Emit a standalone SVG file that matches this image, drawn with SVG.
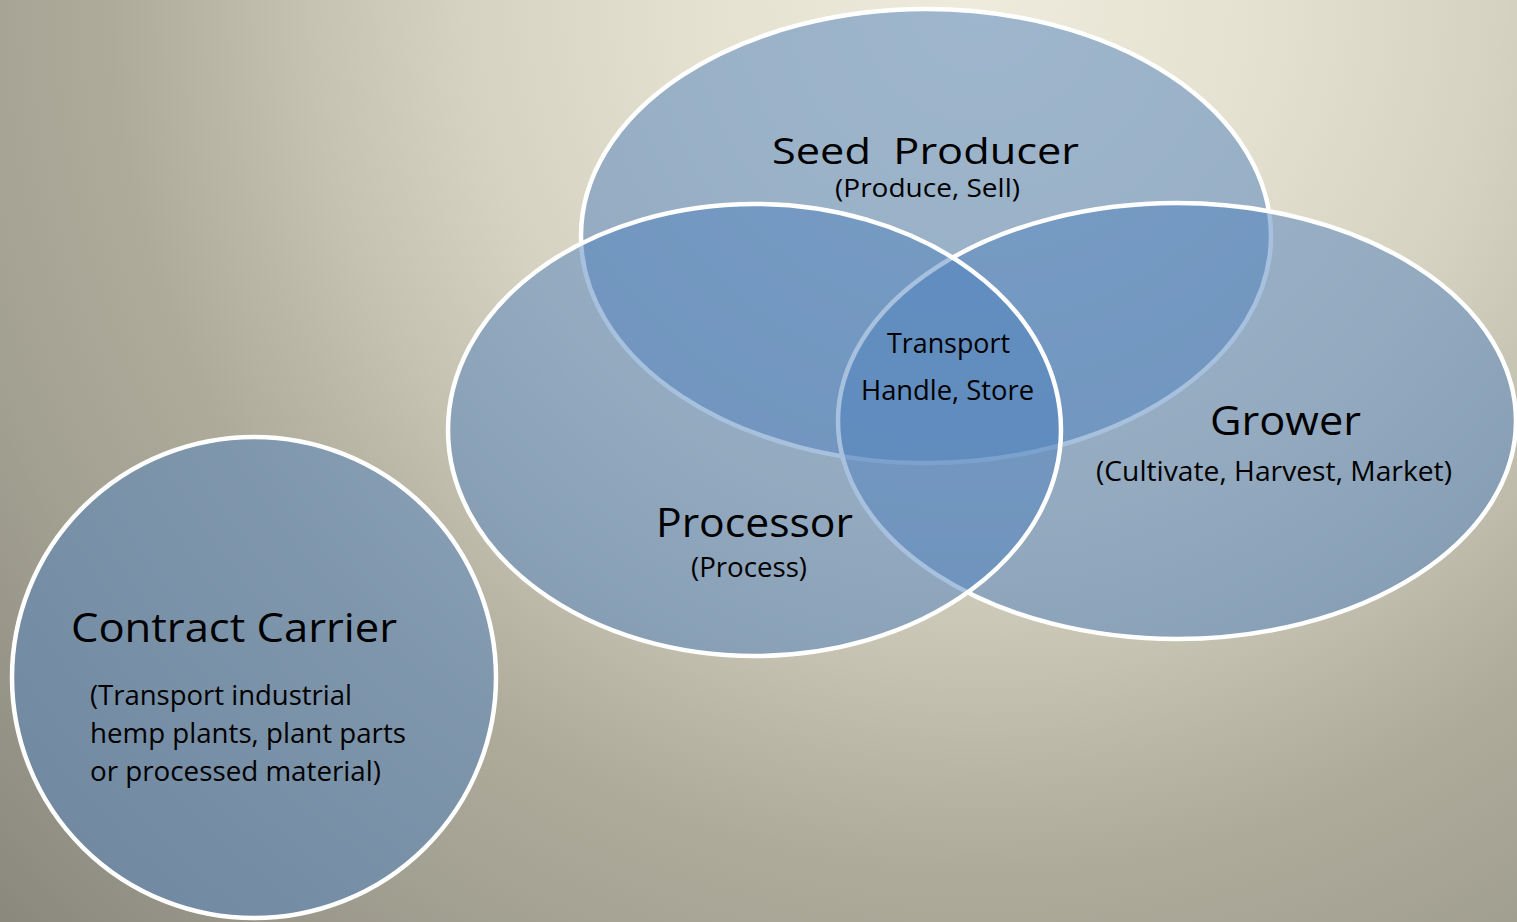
<svg xmlns="http://www.w3.org/2000/svg" width="1517" height="922" viewBox="0 0 1517 922">
  <defs>
    <radialGradient id="bg" gradientUnits="userSpaceOnUse" cx="980" cy="0" r="1400">
      <stop offset="0" stop-color="#EEEBDD"/>
      <stop offset="0.2" stop-color="#E4E1D0"/>
      <stop offset="0.37" stop-color="#D6D2C1"/>
      <stop offset="0.48" stop-color="#C5C2B2"/>
      <stop offset="0.55" stop-color="#B9B6A6"/>
      <stop offset="0.62" stop-color="#AEAB9B"/>
      <stop offset="0.75" stop-color="#A2A091"/>
      <stop offset="1" stop-color="#86837A"/>
    </radialGradient>
  </defs>
  <style>
    .shape { fill: #4F81BD; fill-opacity: 0.5; stroke: #FFFFFF; stroke-width: 4.5; }
    text { font-family: "Open Sans", "Noto Sans", "Liberation Sans", sans-serif; fill: #000000; }
    .big { font-size: 40px; }
    .small { font-size: 27px; }
  </style>
  <rect x="0" y="0" width="1517" height="922" fill="url(#bg)"/>

  <g id="connectors"></g>

  <g id="seed-producer">
    <ellipse class="shape" cx="926" cy="236" rx="345" ry="227"/>
  </g>
  <g id="grower">
    <ellipse class="shape" cx="1177" cy="421" rx="339" ry="218"/>
  </g>
  <g id="processor">
    <ellipse class="shape" cx="754.5" cy="430" rx="306.5" ry="226"/>
  </g>
  <g id="contract-carrier">
    <ellipse class="shape" cx="254" cy="677.5" rx="242" ry="240.5"/>
  </g>

  <g id="seed-producer-text">
    <text x="772" y="164" font-size="37" textLength="307" lengthAdjust="spacingAndGlyphs" xml:space="preserve">Seed  Producer</text>
    <text x="835" y="197" font-size="25" textLength="185" lengthAdjust="spacingAndGlyphs">(Produce, Sell)</text>
  </g>
  <g id="center-text">
    <text class="small" x="887" y="353" textLength="123" lengthAdjust="spacingAndGlyphs">Transport</text>
    <text class="small" x="861" y="400" textLength="173" lengthAdjust="spacingAndGlyphs">Handle, Store</text>
  </g>
  <g id="grower-text">
    <text class="big" x="1210" y="435" textLength="151" lengthAdjust="spacingAndGlyphs">Grower</text>
    <text class="small" x="1096" y="481" textLength="356" lengthAdjust="spacingAndGlyphs">(Cultivate, Harvest, Market)</text>
  </g>
  <g id="processor-text">
    <text class="big" x="656" y="537" textLength="197" lengthAdjust="spacingAndGlyphs">Processor</text>
    <text class="small" x="691" y="577" textLength="116" lengthAdjust="spacingAndGlyphs">(Process)</text>
  </g>
  <g id="contract-carrier-text">
    <text class="big" x="71" y="642" textLength="326" lengthAdjust="spacingAndGlyphs">Contract Carrier</text>
    <text class="small" x="90" y="705" textLength="262" lengthAdjust="spacingAndGlyphs">(Transport industrial</text>
    <text class="small" x="90" y="743" textLength="316" lengthAdjust="spacingAndGlyphs">hemp plants, plant parts</text>
    <text class="small" x="90" y="781" textLength="291" lengthAdjust="spacingAndGlyphs">or processed material)</text>
  </g>
</svg>
